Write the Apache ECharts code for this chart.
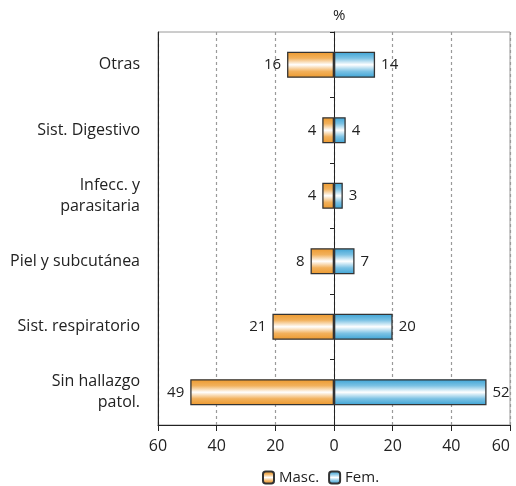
<!DOCTYPE html>
<html><head><meta charset="utf-8">
<script src="https://cdn.jsdelivr.net/npm/echarts@6/dist/echarts.min.js"></script>
<style>html,body{margin:0;padding:0;background:#fff}#c{width:516px;height:486px}</style>
</head><body><div id="c"></div>
<script>
const categories = ['Otras', 'Sist. Digestivo', 'Infecc. y\nparasitaria', 'Piel y subcutánea', 'Sist. respiratorio', 'Sin hallazgo\npatol.'];
const masc = [16, 4, 4, 8, 21, 49];
const fem = [14, 4, 3, 7, 20, 52];
const seriesNames = ['Masc.', 'Fem.'];
const unitLabel = '%';

const FONT = '"Open Sans", "Noto Sans", sans-serif';
function grad(edge, mid) {
  return new echarts.graphic.LinearGradient(0, 0, 0, 1, [
    {offset: 0, color: edge}, {offset: 0.25, color: mid}, {offset: 0.5, color: '#ffffff'},
    {offset: 0.75, color: mid}, {offset: 1, color: edge}
  ]);
}
const chart = echarts.init(document.getElementById('c'));
chart.setOption({
  animation: false,
  textStyle: {fontFamily: FONT},
  grid: {left: 158, right: 6, top: 32, bottom: 61, show: true, borderColor: '#9a9a9a', borderWidth: 1, outerBoundsMode: 'none', containLabel: false},
  graphic: [{type: 'text', left: 333, top: 8, style: {text: unitLabel, font: '15px ' + FONT, fill: '#222'}}],
  legend: {
    bottom: 1, left: 262, padding: 0, itemWidth: 11, itemHeight: 12, itemGap: 9,
    textStyle: {fontSize: 15, color: '#222', fontFamily: FONT},
    data: seriesNames
  },
  xAxis: {
    type: 'value', min: -60, max: 60, interval: 20,
    axisLine: {show: true, onZero: false, lineStyle: {color: '#222', width: 1}},
    axisTick: {show: true, length: 6, lineStyle: {color: '#222'}},
    axisLabel: {fontSize: 16, color: '#222', margin: 13, fontFamily: FONT, alignMaxLabel: 'right', formatter: v => Math.abs(v)},
    splitLine: {show: true, lineStyle: {color: '#9a9a9a', type: [3, 3], width: 1.2}}
  },
  yAxis: [{
    type: 'category', data: categories, inverse: true,
    axisLine: {show: true, onZero: false, lineStyle: {color: '#222'}},
    axisTick: {show: false},
    axisLabel: {fontSize: 16, color: '#222', margin: 18, lineHeight: 21, fontFamily: FONT}
  }, {
    type: 'category', data: categories, inverse: true, position: 'left',
    axisLine: {show: true, onZero: true, lineStyle: {color: '#222'}},
    axisTick: {show: true, length: 4, lineStyle: {color: '#222'}},
    axisLabel: {show: false}
  }],
  series: [{
    name: seriesNames[0], type: 'bar', barWidth: '40%', barGap: '-100%',
    data: masc.map(v => -v),
    itemStyle: {color: grad('#EC982C', '#F2B15C'), borderColor: '#333', borderWidth: 1.3},
    label: {show: true, position: 'left', distance: 6, fontSize: 15, color: '#222', fontFamily: FONT, formatter: p => Math.abs(p.value)}
  }, {
    name: seriesNames[1], type: 'bar', barWidth: '40%', barGap: '-100%',
    data: fem,
    itemStyle: {color: grad('#3AA2D4', '#7CC2E4'), borderColor: '#333', borderWidth: 1.3},
    label: {show: true, position: 'right', distance: 6, fontSize: 15, color: '#222', fontFamily: FONT}
  }]
});
</script></body></html>
